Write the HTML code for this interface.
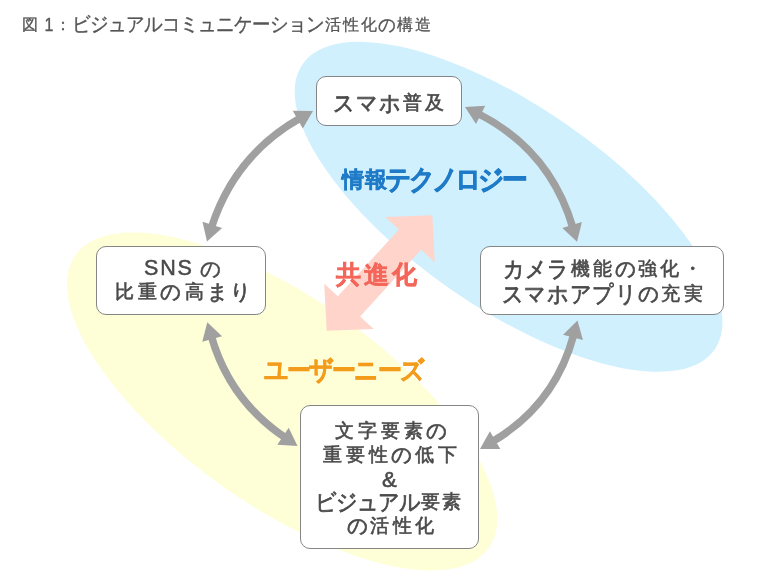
<!DOCTYPE html>
<html><head><meta charset="utf-8"><style>
html,body{margin:0;padding:0;background:#fff;width:784px;height:587px;overflow:hidden}
body{position:relative;font-family:"Liberation Sans",sans-serif;color:#4a4a4a}
svg{position:absolute;left:0;top:0}
.t{position:absolute;white-space:nowrap;line-height:30px;will-change:transform}
.box{position:absolute;box-sizing:border-box;border:1px solid #858585;border-radius:10px;background:#fff}
</style></head><body>
<div class="t" style="left:18.0px;top:9.6px;font-size:16px;font-weight:normal;color:#555555;-webkit-text-stroke:0.3px #555555;"><span style="display:inline-flex;justify-content:center;width:24.6px">図</span><span style="display:inline-flex;justify-content:center;width:12.7px"><span style="display:inline-block;transform:scale(1.0,1.2)">1</span></span><span style="display:inline-flex;justify-content:center;width:16.3px">：</span><span style="display:inline-flex;justify-content:center;width:18.0px"><span style="display:inline-block;transform:scale(1.15,1.25)">ビ</span></span><span style="display:inline-flex;justify-content:center;width:18.0px"><span style="display:inline-block;transform:scale(1.15,1.25)">ジ</span></span><span style="display:inline-flex;justify-content:center;width:18.0px"><span style="display:inline-block;transform:scale(1.15,1.25)">ュ</span></span><span style="display:inline-flex;justify-content:center;width:18.0px"><span style="display:inline-block;transform:scale(1.15,1.25)">ア</span></span><span style="display:inline-flex;justify-content:center;width:18.0px"><span style="display:inline-block;transform:scale(1.15,1.25)">ル</span></span><span style="display:inline-flex;justify-content:center;width:18.0px"><span style="display:inline-block;transform:scale(1.15,1.25)">コ</span></span><span style="display:inline-flex;justify-content:center;width:18.0px"><span style="display:inline-block;transform:scale(1.15,1.25)">ミ</span></span><span style="display:inline-flex;justify-content:center;width:18.0px"><span style="display:inline-block;transform:scale(1.15,1.25)">ュ</span></span><span style="display:inline-flex;justify-content:center;width:18.0px"><span style="display:inline-block;transform:scale(1.15,1.25)">ニ</span></span><span style="display:inline-flex;justify-content:center;width:18.0px"><span style="display:inline-block;transform:scale(1.15,1.25)">ケ</span></span><span style="display:inline-flex;justify-content:center;width:18.0px"><span style="display:inline-block;transform:scale(1.15,1.25)">ー</span></span><span style="display:inline-flex;justify-content:center;width:18.0px"><span style="display:inline-block;transform:scale(1.15,1.25)">シ</span></span><span style="display:inline-flex;justify-content:center;width:18.0px"><span style="display:inline-block;transform:scale(1.15,1.25)">ョ</span></span><span style="display:inline-flex;justify-content:center;width:18.0px"><span style="display:inline-block;transform:scale(1.15,1.25)">ン</span></span><span style="display:inline-flex;justify-content:center;width:18.0px">活</span><span style="display:inline-flex;justify-content:center;width:18.0px">性</span><span style="display:inline-flex;justify-content:center;width:18.0px">化</span><span style="display:inline-flex;justify-content:center;width:18.0px"><span style="display:inline-block;transform:scale(1.1,1.12)">の</span></span><span style="display:inline-flex;justify-content:center;width:18.0px">構</span><span style="display:inline-flex;justify-content:center;width:18.0px">造</span></div>
<svg width="784" height="587" viewBox="0 0 784 587">
<ellipse cx="282.1" cy="401.5" rx="253.3" ry="103.5" transform="rotate(35.3 282.1 401.5)" fill="#fefed7"/>
<ellipse cx="508.6" cy="206.8" rx="250.6" ry="100.8" transform="rotate(34.7 508.6 206.8)" fill="#d0f0fd"/>
<polygon points="432.3,215.2 385.3,217.0 398.9,229.5 337.9,296.3 324.2,283.8 326.7,330.8 373.7,329.0 360.1,316.5 421.1,249.7 434.8,262.2" fill="#fed4cb"/>
<path d="M300.4,118.1 Q234.4,155.4 211.4,227.7" fill="none" stroke="#a0a0a0" stroke-width="7.5"/>
<polygon points="313.0,111.0 292.7,110.7 302.8,128.5" fill="#a0a0a0"/>
<polygon points="207.0,241.5 222.1,227.9 202.5,221.7" fill="#a0a0a0"/>
<path d="M477.9,113.5 Q550.2,150.1 572.9,227.9" fill="none" stroke="#a0a0a0" stroke-width="7.5"/>
<polygon points="465.0,107.0 476.0,124.0 485.2,105.8" fill="#a0a0a0"/>
<polygon points="577.0,241.8 581.9,222.1 562.3,227.9" fill="#a0a0a0"/>
<path d="M211.3,336.1 Q229.8,400.6 285.5,437.9" fill="none" stroke="#a0a0a0" stroke-width="7.5"/>
<polygon points="207.3,322.2 202.3,341.8 222.0,336.2" fill="#a0a0a0"/>
<polygon points="297.5,446.0 288.7,427.7 277.3,444.8" fill="#a0a0a0"/>
<path d="M573.8,334.5 Q555.0,404.7 492.5,441.6" fill="none" stroke="#a0a0a0" stroke-width="7.5"/>
<polygon points="577.5,320.5 563.1,334.8 582.9,340.1" fill="#a0a0a0"/>
<polygon points="480.0,449.0 500.3,448.9 489.9,431.3" fill="#a0a0a0"/>
</svg>
<div class="box" style="left:316px;top:76px;width:146px;height:50px"></div>
<div class="box" style="left:480px;top:246px;width:244px;height:69px"></div>
<div class="box" style="left:96px;top:246px;width:170px;height:69px"></div>
<div class="box" style="left:300px;top:405px;width:179px;height:144px"></div>
<div class="t" style="left:332.4px;top:87.8px;font-size:18.5px;font-weight:normal;color:#4a4a4a;-webkit-text-stroke:0.6px #4a4a4a;"><span style="display:inline-flex;justify-content:center;width:22.875px"><span style="display:inline-block;transform:scale(1.15,1.25)">ス</span></span><span style="display:inline-flex;justify-content:center;width:22.875px"><span style="display:inline-block;transform:scale(1.15,1.25)">マ</span></span><span style="display:inline-flex;justify-content:center;width:22.875px"><span style="display:inline-block;transform:scale(1.15,1.25)">ホ</span></span><span style="display:inline-flex;justify-content:center;width:22.875px">普</span><span style="display:inline-flex;justify-content:center;width:22.875px">及</span></div>
<div class="t" style="left:501.8px;top:254.0px;font-size:18.5px;font-weight:normal;color:#4a4a4a;-webkit-text-stroke:0.6px #4a4a4a;"><span style="display:inline-flex;justify-content:center;width:22.375px"><span style="display:inline-block;transform:scale(1.15,1.25)">カ</span></span><span style="display:inline-flex;justify-content:center;width:22.375px"><span style="display:inline-block;transform:scale(1.15,1.25)">メ</span></span><span style="display:inline-flex;justify-content:center;width:22.375px"><span style="display:inline-block;transform:scale(1.15,1.25)">ラ</span></span><span style="display:inline-flex;justify-content:center;width:22.375px">機</span><span style="display:inline-flex;justify-content:center;width:22.375px">能</span><span style="display:inline-flex;justify-content:center;width:22.375px"><span style="display:inline-block;transform:scale(1.1,1.12)">の</span></span><span style="display:inline-flex;justify-content:center;width:22.375px">強</span><span style="display:inline-flex;justify-content:center;width:22.375px">化</span><span style="display:inline-flex;justify-content:center;width:22.375px">・</span></div>
<div class="t" style="left:501.0px;top:279.1px;font-size:18.5px;font-weight:normal;color:#4a4a4a;-webkit-text-stroke:0.6px #4a4a4a;"><span style="display:inline-flex;justify-content:center;width:22.638px"><span style="display:inline-block;transform:scale(1.15,1.25)">ス</span></span><span style="display:inline-flex;justify-content:center;width:22.638px"><span style="display:inline-block;transform:scale(1.15,1.25)">マ</span></span><span style="display:inline-flex;justify-content:center;width:22.638px"><span style="display:inline-block;transform:scale(1.15,1.25)">ホ</span></span><span style="display:inline-flex;justify-content:center;width:22.638px"><span style="display:inline-block;transform:scale(1.15,1.25)">ア</span></span><span style="display:inline-flex;justify-content:center;width:22.638px"><span style="display:inline-block;transform:scale(1.15,1.25)">プ</span></span><span style="display:inline-flex;justify-content:center;width:22.638px"><span style="display:inline-block;transform:scale(1.15,1.25)">リ</span></span><span style="display:inline-flex;justify-content:center;width:22.638px"><span style="display:inline-block;transform:scale(1.1,1.12)">の</span></span><span style="display:inline-flex;justify-content:center;width:22.638px">充</span><span style="display:inline-flex;justify-content:center;width:22.638px">実</span></div>
<div class="t" style="left:143.5px;top:252.5px;font-size:21.5px;font-weight:normal;color:#4a4a4a;-webkit-text-stroke:0.5px #4a4a4a;letter-spacing:1.8px;">SNS<span style="display:inline-block;width:7px"></span><span style="display:inline-block;font-size:19px;transform:scale(1.1,1.12)">の</span></div>
<div class="t" style="left:112.8px;top:276.6px;font-size:18.5px;font-weight:normal;color:#4a4a4a;-webkit-text-stroke:0.6px #4a4a4a;"><span style="display:inline-flex;justify-content:center;width:23.2px">比</span><span style="display:inline-flex;justify-content:center;width:23.2px">重</span><span style="display:inline-flex;justify-content:center;width:23.2px"><span style="display:inline-block;transform:scale(1.1,1.12)">の</span></span><span style="display:inline-flex;justify-content:center;width:23.2px">高</span><span style="display:inline-flex;justify-content:center;width:23.2px"><span style="display:inline-block;transform:scale(1.1,1.12)">ま</span></span><span style="display:inline-flex;justify-content:center;width:23.2px"><span style="display:inline-block;transform:scale(1.1,1.12)">り</span></span></div>
<div class="t" style="left:332.8px;top:416.1px;font-size:18.5px;font-weight:normal;color:#4a4a4a;-webkit-text-stroke:0.6px #4a4a4a;"><span style="display:inline-flex;justify-content:center;width:22.95px">文</span><span style="display:inline-flex;justify-content:center;width:22.95px">字</span><span style="display:inline-flex;justify-content:center;width:22.95px">要</span><span style="display:inline-flex;justify-content:center;width:22.95px">素</span><span style="display:inline-flex;justify-content:center;width:22.95px"><span style="display:inline-block;transform:scale(1.1,1.12)">の</span></span></div>
<div class="t" style="left:320.9px;top:439.9px;font-size:18.5px;font-weight:normal;color:#4a4a4a;-webkit-text-stroke:0.6px #4a4a4a;"><span style="display:inline-flex;justify-content:center;width:22.94px">重</span><span style="display:inline-flex;justify-content:center;width:22.94px">要</span><span style="display:inline-flex;justify-content:center;width:22.94px">性</span><span style="display:inline-flex;justify-content:center;width:22.94px"><span style="display:inline-block;transform:scale(1.1,1.12)">の</span></span><span style="display:inline-flex;justify-content:center;width:22.94px">低</span><span style="display:inline-flex;justify-content:center;width:22.94px">下</span></div>
<div class="t" style="left:382.4px;top:464.8px;font-size:22px;font-weight:normal;color:#4a4a4a;-webkit-text-stroke:0.6px #4a4a4a;letter-spacing:0px;">&amp;</div>
<div class="t" style="left:315.1px;top:486.6px;font-size:18.5px;font-weight:normal;color:#4a4a4a;-webkit-text-stroke:0.6px #4a4a4a;"><span style="display:inline-flex;justify-content:center;width:20.967px"><span style="display:inline-block;transform:scale(1.15,1.25)">ビ</span></span><span style="display:inline-flex;justify-content:center;width:20.967px"><span style="display:inline-block;transform:scale(1.15,1.25)">ジ</span></span><span style="display:inline-flex;justify-content:center;width:20.967px"><span style="display:inline-block;transform:scale(1.15,1.25)">ュ</span></span><span style="display:inline-flex;justify-content:center;width:20.967px"><span style="display:inline-block;transform:scale(1.15,1.25)">ア</span></span><span style="display:inline-flex;justify-content:center;width:20.967px"><span style="display:inline-block;transform:scale(1.15,1.25)">ル</span></span><span style="display:inline-flex;justify-content:center;width:20.967px">要</span><span style="display:inline-flex;justify-content:center;width:20.967px">素</span></div>
<div class="t" style="left:345.6px;top:511.2px;font-size:18.5px;font-weight:normal;color:#4a4a4a;-webkit-text-stroke:0.6px #4a4a4a;"><span style="display:inline-flex;justify-content:center;width:22.433px"><span style="display:inline-block;transform:scale(1.1,1.12)">の</span></span><span style="display:inline-flex;justify-content:center;width:22.433px">活</span><span style="display:inline-flex;justify-content:center;width:22.433px">性</span><span style="display:inline-flex;justify-content:center;width:22.433px">化</span></div>
<div class="t" style="left:340.6px;top:165.4px;font-size:22px;font-weight:bold;color:#1f7bc8;-webkit-text-stroke:0.5px #1f7bc8;"><span style="display:inline-flex;justify-content:center;width:23.2px">情</span><span style="display:inline-flex;justify-content:center;width:23.2px">報</span><span style="display:inline-flex;justify-content:center;width:23.2px"><span style="display:inline-block;transform:scale(1.15,1.25)">テ</span></span><span style="display:inline-flex;justify-content:center;width:23.2px"><span style="display:inline-block;transform:scale(1.15,1.25)">ク</span></span><span style="display:inline-flex;justify-content:center;width:23.2px"><span style="display:inline-block;transform:scale(1.15,1.25)">ノ</span></span><span style="display:inline-flex;justify-content:center;width:23.2px"><span style="display:inline-block;transform:scale(1.15,1.25)">ロ</span></span><span style="display:inline-flex;justify-content:center;width:23.2px"><span style="display:inline-block;transform:scale(1.15,1.25)">ジ</span></span><span style="display:inline-flex;justify-content:center;width:23.2px"><span style="display:inline-block;transform:scale(1.15,1.25)">ー</span></span></div>
<div class="t" style="left:335.3px;top:258.8px;font-size:25px;font-weight:bold;color:#f4665a;-webkit-text-stroke:0.5px #f4665a;"><span style="display:inline-flex;justify-content:center;width:27.7px">共</span><span style="display:inline-flex;justify-content:center;width:27.7px">進</span><span style="display:inline-flex;justify-content:center;width:27.7px">化</span></div>
<div class="t" style="left:266.2px;top:354.5px;font-size:21px;font-weight:bold;color:#f39c1c;-webkit-text-stroke:0.4px #f39c1c;"><span style="display:inline-flex;justify-content:center;width:22.55px"><span style="display:inline-block;transform:scale(1.15,1.25)">ユ</span></span><span style="display:inline-flex;justify-content:center;width:22.55px"><span style="display:inline-block;transform:scale(1.15,1.25)">ー</span></span><span style="display:inline-flex;justify-content:center;width:22.55px"><span style="display:inline-block;transform:scale(1.15,1.25)">ザ</span></span><span style="display:inline-flex;justify-content:center;width:22.55px"><span style="display:inline-block;transform:scale(1.15,1.25)">ー</span></span><span style="display:inline-flex;justify-content:center;width:22.55px"><span style="display:inline-block;transform:scale(1.15,1.25)">ニ</span></span><span style="display:inline-flex;justify-content:center;width:22.55px"><span style="display:inline-block;transform:scale(1.15,1.25)">ー</span></span><span style="display:inline-flex;justify-content:center;width:22.55px"><span style="display:inline-block;transform:scale(1.15,1.25)">ズ</span></span></div>
</body></html>
